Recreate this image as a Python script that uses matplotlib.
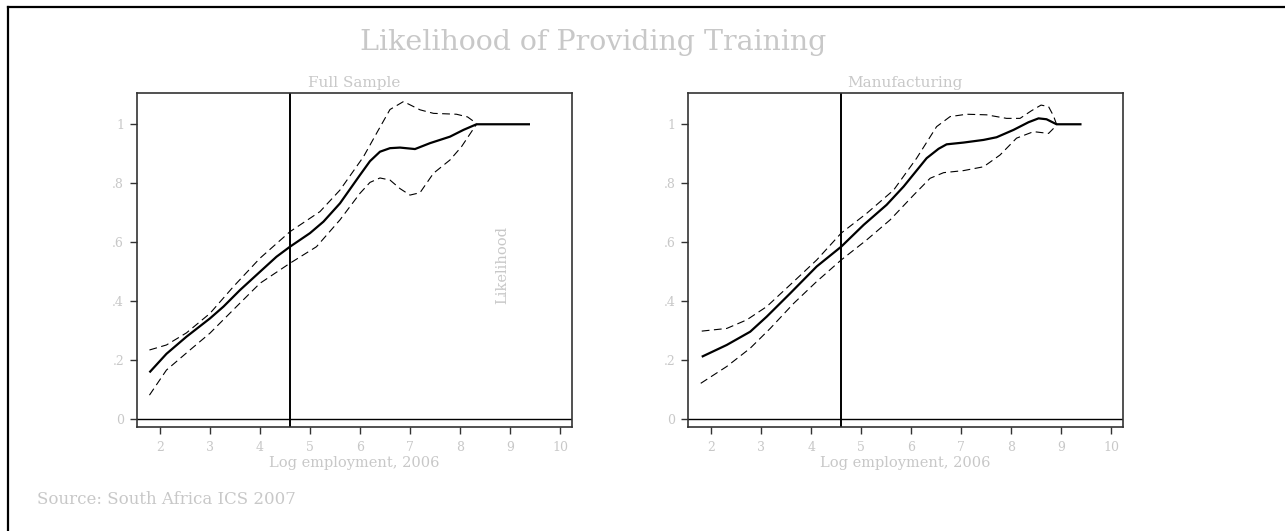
import matplotlib
matplotlib.use("Agg")
import matplotlib.pyplot as plt
from matplotlib.lines import Line2D

# ---- data ----
full_x = [1.79, 2.13, 2.53, 3.0, 3.27, 3.6, 4.0, 4.33, 4.6, 5.0, 5.27, 5.6, 6.0, 6.2, 6.4, 6.6, 6.8, 7.1, 7.4, 7.8, 8.07, 8.33, 9.4]
full_y = [0.159, 0.222, 0.28, 0.342, 0.382, 0.438, 0.50, 0.551, 0.585, 0.631, 0.67, 0.732, 0.828, 0.875, 0.907, 0.919, 0.921, 0.916, 0.936, 0.958, 0.981, 1.0, 1.0]

full_up_x = [1.79, 2.13, 2.53, 3.0, 3.47, 4.0, 4.6, 5.2, 5.6, 6.07, 6.35, 6.6, 6.87, 7.2, 7.47, 7.93, 8.15, 8.33]
full_up_y = [0.235, 0.252, 0.293, 0.359, 0.45, 0.546, 0.636, 0.704, 0.777, 0.89, 0.975, 1.05, 1.077, 1.049, 1.037, 1.034, 1.025, 1.003]

full_lo_x = [1.79, 2.13, 2.6, 3.0, 3.53, 4.0, 4.6, 5.13, 5.6, 6.0, 6.2, 6.4, 6.6, 6.8, 7.0, 7.2, 7.47, 7.8, 8.03, 8.33]
full_lo_y = [0.082, 0.167, 0.235, 0.292, 0.382, 0.461, 0.529, 0.585, 0.676, 0.766, 0.803, 0.818, 0.811, 0.782, 0.760, 0.768, 0.834, 0.879, 0.924, 1.0]

man_x = [1.81, 2.31, 2.78, 3.11, 3.58, 4.11, 4.6, 5.05, 5.51, 5.85, 6.31, 6.55, 6.71, 7.05, 7.45, 7.71, 8.05, 8.35, 8.55, 8.71, 8.91, 9.41]
man_y = [0.212, 0.252, 0.297, 0.348, 0.427, 0.518, 0.585, 0.659, 0.727, 0.789, 0.885, 0.917, 0.932, 0.938, 0.947, 0.956, 0.981, 1.007, 1.02, 1.017, 1.0, 1.0]

man_up_x = [1.81, 2.31, 2.71, 3.11, 3.65, 4.11, 4.6, 5.11, 5.65, 6.11, 6.51, 6.78, 7.11, 7.51, 7.91, 8.18, 8.4, 8.6, 8.75, 8.85, 8.91]
man_up_y = [0.299, 0.308, 0.337, 0.382, 0.467, 0.54, 0.631, 0.698, 0.777, 0.885, 0.992, 1.026, 1.034, 1.032, 1.02, 1.02, 1.045, 1.065, 1.06, 1.028, 1.0]

man_lo_x = [1.79, 2.31, 2.78, 3.18, 3.65, 4.11, 4.6, 5.11, 5.58, 6.05, 6.38, 6.65, 7.05, 7.45, 7.78, 8.11, 8.45, 8.75, 8.85, 8.91]
man_lo_y = [0.122, 0.179, 0.241, 0.308, 0.393, 0.467, 0.54, 0.608, 0.676, 0.76, 0.817, 0.836, 0.843, 0.856, 0.896, 0.953, 0.975, 0.969, 0.986, 1.0]

cutoff = 4.6
x_ticks = [2, 3, 4, 5, 6, 7, 8, 9, 10]
y_ticks = [0, 0.2, 0.4, 0.6, 0.8, 1.0]
y_tick_labels = ["0", ".2", ".4", ".6", ".8", "1"]
panel_titles = ["Full Sample", "Manufacturing"]
title = "Likelihood of Providing Training"
xlabel = "Log employment, 2006"
ylabel = "Likelihood"
source = "Source: South Africa ICS 2007"

# ---- styling ----
W, H = 1285, 531
TXT = "#c8c8c8"
FRAME = "#333333"
plt.rcParams["font.family"] = ["DejaVu Serif"]

fig = plt.figure(figsize=(W / 100, H / 100), dpi=100)
fig.patch.set_facecolor("white")

def fx(px):
    return px / W

def fy(py):
    return 1 - py / H

# outer border (top and left visible)
fig.add_artist(Line2D([fx(8), fx(8)], [fy(7), 0], transform=fig.transFigure, color="black", lw=1.6))
fig.add_artist(Line2D([fx(8), 1], [fy(7), fy(7)], transform=fig.transFigure, color="black", lw=1.6))

panels = [
    (136.7, 571.7, full_x, full_y, full_up_x, full_up_y, full_lo_x, full_lo_y),
    (688.0, 1122.7, man_x, man_y, man_up_x, man_up_y, man_lo_x, man_lo_y),
]
top_px, bot_px = 92.7, 427.0

for i, (l, r, sx, sy, ux, uy, lx, ly) in enumerate(panels):
    ax = fig.add_axes([fx(l), fy(bot_px), (r - l) / W, (bot_px - top_px) / H])
    ax.set_xlim(1.535, 10.234)
    ax.set_ylim(-0.026, 1.107)
    ax.plot(sx, sy, color="black", lw=1.6, solid_capstyle="butt", solid_joinstyle="round")
    ax.plot(ux, uy, color="black", lw=0.8, ls=(0, (7, 4)))
    ax.plot(lx, ly, color="black", lw=0.8, ls=(0, (7, 4)))
    ax.axhline(0, color="black", lw=1.0)
    ax.axvline(cutoff, color="black", lw=1.4)
    ax.set_xticks(x_ticks)
    ax.set_yticks(y_ticks)
    ax.set_yticklabels(y_tick_labels)
    ax.tick_params(axis="both", colors=FRAME, labelcolor=TXT, labelsize=9,
                   length=5, width=1.0, direction="out")
    ax.tick_params(axis="x", pad=5)
    ax.tick_params(axis="y", pad=4)
    for s in ax.spines.values():
        s.set_color(FRAME)
        s.set_linewidth(1.2)
    cx = (l + r) / 2
    fig.text(fx(cx), fy(83), panel_titles[i], ha="center", va="center", color=TXT, fontsize=11)
    fig.text(fx(cx), fy(463), xlabel, ha="center", va="center", color=TXT, fontsize=10.5)

fig.text(fx(502), fy(265), ylabel, ha="center", va="center", rotation=90, color=TXT, fontsize=10.5)
fig.text(fx(593), fy(42), title, ha="center", va="center", color=TXT, fontsize=20.5)
fig.text(fx(37), fy(500), source, ha="left", va="center", color=TXT, fontsize=12)

fig.savefig("out.png", dpi=100, facecolor="white")
